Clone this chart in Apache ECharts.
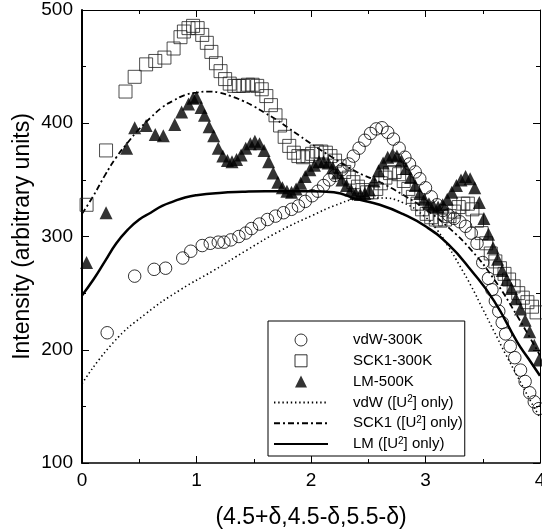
<!DOCTYPE html>
<html>
<head>
<meta charset="utf-8">
<script src="https://cdn.jsdelivr.net/npm/echarts@6/dist/echarts.min.js"></script>
<style>
  html, body { margin: 0; padding: 0; background: #fff; }
  #chart { width: 542px; height: 531px; }
</style>
</head>
<body>
<div id="chart"></div>
<script>
// Measured intensities along (4.5+δ,4.5-δ,5.5-δ): [δ, intensity]
const vdW300K = [
  [0.22,215],[0.46,265],[0.63,271],[0.73,272],[0.88,281],[0.95,287],[1.05,292],[1.12,294],
  [1.19,295],[1.24,295],[1.30,297],[1.37,300],[1.43,303],[1.48,307],[1.55,311],[1.62,315],
  [1.69,318],[1.76,321],[1.83,324],[1.89,327],[1.95,331],[2.01,336],[2.06,340],[2.11,345],
  [2.16,350],[2.21,354],[2.27,359],[2.33,364],[2.37,371],[2.42,378],[2.47,385],[2.52,391],
  [2.57,395],[2.62,396],[2.67,392],[2.72,386],[2.77,378],[2.82,370],[2.86,364],[2.91,357],
  [2.95,351],[3.00,343],[3.05,335],[3.10,328],[3.15,323],[3.20,319],[3.25,316],[3.30,313],
  [3.35,309],[3.40,303],[3.45,294],[3.50,277],[3.55,263],[3.58,253],[3.61,243],[3.64,234],
  [3.67,224],[3.70,214],[3.74,203],[3.78,193],[3.83,182],[3.87,172],[3.91,162],[3.95,154],
  [3.99,148]
];

const sck1300K = [
  [0.04,328],[0.21,376],[0.38,428],[0.46,441],[0.56,452],[0.64,455],[0.72,458],[0.80,466],
  [0.86,476],[0.89,481],[0.93,484],[0.97,486],[1.01,484],[1.05,478],[1.09,471],[1.13,463],
  [1.17,453],[1.21,446],[1.25,439],[1.29,435],[1.33,433],[1.37,433],[1.41,433],[1.45,434],
  [1.49,434],[1.53,433],[1.57,430],[1.61,424],[1.65,416],[1.69,407],[1.73,398],[1.77,388],
  [1.81,380],[1.85,374],[1.89,371],[1.93,370],[1.97,371],[2.01,373],[2.05,375],[2.09,375],
  [2.13,374],[2.17,371],[2.21,367],[2.25,362],[2.29,357],[2.33,352],[2.37,348],[2.41,344],
  [2.45,341],[2.49,339],[2.53,339],[2.57,342],[2.61,347],[2.65,352],[2.69,356],[2.73,357],
  [2.77,355],[2.81,349],[2.85,342],[2.89,335],[2.93,329],[2.97,324],[3.01,320],[3.05,317],
  [3.09,315],[3.13,314],[3.17,315],[3.21,318],[3.25,322],[3.29,326],[3.33,329],[3.37,329],
  [3.41,324],[3.45,314],[3.49,303],[3.53,294],[3.57,285],[3.61,278],[3.65,272],[3.69,267],
  [3.73,262],[3.77,256],[3.81,250],[3.85,246],[3.89,242],[3.93,238],[3.97,233]
];

const lm500K = [
  [0.04,277],[0.21,321],[0.39,378],[0.46,396],[0.56,398],[0.64,390],[0.71,389],[0.81,399],
  [0.87,410],[0.93,417],[0.97,422],[1.00,423],[1.04,414],[1.07,407],[1.11,397],[1.15,389],
  [1.19,378],[1.23,371],[1.27,367],[1.31,366],[1.35,368],[1.39,372],[1.43,378],[1.47,382],
  [1.51,384],[1.55,382],[1.59,376],[1.63,366],[1.67,356],[1.71,348],[1.75,343],[1.79,340],
  [1.83,339],[1.87,342],[1.91,347],[1.95,353],[1.99,359],[2.03,363],[2.07,366],[2.11,366],
  [2.15,365],[2.19,361],[2.23,356],[2.27,350],[2.31,345],[2.35,341],[2.39,338],[2.43,337],
  [2.47,338],[2.51,341],[2.55,349],[2.59,358],[2.63,365],[2.67,370],[2.71,372],[2.75,371],
  [2.79,367],[2.83,360],[2.87,352],[2.91,345],[2.95,338],[2.99,333],[3.03,329],[3.07,327],
  [3.11,326],[3.15,328],[3.19,333],[3.23,339],[3.27,345],[3.31,350],[3.35,353],[3.39,351],
  [3.43,343],[3.47,330],[3.51,316],[3.55,302],[3.59,290],[3.63,280],[3.67,270],[3.71,262],
  [3.75,254],[3.79,245],[3.83,236],[3.87,226],[3.91,216],[3.95,204],[3.99,191]
];

// Calculated curves from the [U²] term only
const vdWU2 = [
  [0,170],[0.27,206],[0.56,232],[0.86,253],[1.15,270],[1.44,288],[1.73,305],[2.02,319],
  [2.2,327],[2.4,333],[2.6,334],[2.8,330],[3.0,317],[3.1,306],[3.2,291],[3.3,274],
  [3.4,256],[3.5,236],[3.6,216],[3.7,196],[3.8,177],[3.9,158],[4.0,140]
];

const sck1U2 = [
  [0,320],[0.1,336],[0.2,354],[0.3,370],[0.4,383],[0.5,395],[0.6,405],[0.7,414],
  [0.8,420],[0.9,425],[1.0,427],[1.1,428],[1.2,427],[1.3,424],[1.4,420],[1.5,415],
  [1.6,409],[1.7,403],[1.8,396],[1.9,389],[2.0,382],[2.2,369],[2.4,357],[2.6,348],
  [2.8,337],[3.0,324],[3.2,308],[3.4,288],[3.6,262],[3.8,230],[4.0,195]
];

const lmU2 = [
  [0,248],[0.1,262],[0.2,278],[0.3,294],[0.4,306],[0.5,315],[0.6,321],[0.7,327],
  [0.8,331],[0.9,334.5],[1.0,336.5],[1.2,338.5],[1.4,339.5],[1.6,340],[1.8,340],[2.0,340],
  [2.2,339],[2.4,333],[2.6,328],[2.8,320],[3.0,309],[3.2,293],[3.4,270],[3.6,243],
  [3.8,207],[3.9,192],[4.0,177]
];

const xTicks = { min: 0, max: 4, step: 1 };
const yTicks = { min: 100, max: 500, step: 100 };

const FONT = 'Liberation Sans, Arial, Helvetica, sans-serif';

const baseAxis = {
  axisLine: { show: true, lineStyle: { color: '#000', width: 1.2 } },
  axisTick: { show: true, inside: true, length: 7, lineStyle: { color: '#000', width: 1 } },
  minorTick: { show: true, splitNumber: 2, length: 4, lineStyle: { color: '#000', width: 1 } },
  splitLine: { show: false },
  minorSplitLine: { show: false }
};

// legend entries for the curves show only their line sample
const hiddenMarker = { color: 'rgba(0,0,0,0)', borderColor: 'rgba(0,0,0,0)', borderWidth: 0 };
const hollowMarker = { color: 'rgba(0,0,0,0)', borderColor: '#000', borderWidth: 1 };
const solidMarker = { color: '#000', borderColor: '#000', borderWidth: 0 };
// square / triangle legend glyphs kept at their own proportions
const squareIcon = 'path://M0,0L10,0L10,10L0,10Z';
const triangleIcon = 'path://M5,0L10,10L0,10Z';

const chart = echarts.init(document.getElementById('chart'), null, { renderer: 'canvas' });

chart.setOption({
  animation: false,
  backgroundColor: '#fff',
  grid: { left: 82, right: 2, top: 10, bottom: 68, containLabel: false, outerBoundsMode: 'none' },
  xAxis: [
    Object.assign({}, baseAxis, {
      type: 'value', position: 'bottom',
      min: xTicks.min, max: xTicks.max, interval: xTicks.step,
      axisLine: { show: true, onZero: false, lineStyle: { color: '#000', width: 1.5 } },
      axisLabel: { show: true, margin: 8, color: '#000', fontSize: 19, fontFamily: FONT },
      name: '(4.5+δ,4.5-δ,5.5-δ)', nameLocation: 'middle', nameGap: 43, nameMoveOverlap: false,
      nameTextStyle: { color: '#000', fontSize: 23, fontFamily: FONT }
    }),
    Object.assign({}, baseAxis, {
      type: 'value', position: 'top',
      min: xTicks.min, max: xTicks.max, interval: xTicks.step,
      axisLine: { show: true, onZero: false, lineStyle: { color: '#000', width: 1 } },
      axisLabel: { show: false }
    })
  ],
  yAxis: [
    Object.assign({}, baseAxis, {
      type: 'value', position: 'left',
      min: yTicks.min, max: yTicks.max, interval: yTicks.step,
      axisLine: { show: true, onZero: false, lineStyle: { color: '#000', width: 2 } },
      axisLabel: { show: true, margin: 9, color: '#000', fontSize: 19, fontFamily: FONT },
      name: 'Intensity (arbitrary units)', nameLocation: 'middle', nameGap: 48, nameMoveOverlap: false,
      nameTextStyle: { color: '#000', fontSize: 23, fontFamily: FONT }
    }),
    Object.assign({}, baseAxis, {
      type: 'value', position: 'right',
      min: yTicks.min, max: yTicks.max, interval: yTicks.step,
      axisLine: { show: true, onZero: false, lineStyle: { color: '#000', width: 1 } },
      axisLabel: { show: false }
    })
  ],
  legend: {
    orient: 'vertical',
    left: 268, top: 321,
    itemWidth: 54, itemHeight: 12, itemGap: 4.8,
    symbolKeepAspect: true,
    padding: [11, 2, 4, 5],
    borderColor: '#000', borderWidth: 1, borderRadius: 0,
    backgroundColor: '#fff',
    selectedMode: false,
    textStyle: {
      color: '#000', fontSize: 15, fontFamily: FONT, lineHeight: 16,
      padding: [0, 0, 0, 20],
      rich: {
        sup: { fontSize: 10, fontFamily: FONT, color: '#000', verticalAlign: 'top', lineHeight: 10 }
      }
    },
    formatter: function (name) { return name.replace('U2', 'U{sup|2}'); },
    data: [
      { name: 'vdW-300K', icon: 'circle', itemStyle: hollowMarker },
      { name: 'SCK1-300K', icon: squareIcon, itemStyle: hollowMarker },
      { name: 'LM-500K', icon: triangleIcon, itemStyle: solidMarker },
      { name: 'vdW ([U2] only)', itemStyle: hiddenMarker },
      { name: 'SCK1 ([U2] only)', itemStyle: hiddenMarker },
      { name: 'LM ([U2] only)', itemStyle: hiddenMarker }
    ]
  },
  series: [
    {
      name: 'vdW ([U2] only)', type: 'line', data: vdWU2, smooth: true, symbol: 'none',
      itemStyle: { color: '#000' },
      lineStyle: { color: '#000', width: 1.6, type: [1.4, 2.8] }, z: 2
    },
    {
      name: 'SCK1 ([U2] only)', type: 'line', data: sck1U2, smooth: true, symbol: 'none',
      itemStyle: { color: '#000' },
      lineStyle: { color: '#000', width: 1.8, type: [6, 3, 2, 3] }, z: 2
    },
    {
      name: 'LM ([U2] only)', type: 'line', data: lmU2, smooth: true, symbol: 'none',
      itemStyle: { color: '#000' },
      lineStyle: { color: '#000', width: 2.5, type: 'solid' }, z: 2
    },
    {
      name: 'vdW-300K', type: 'scatter', data: vdW300K, symbol: 'circle', symbolSize: 12.5,
      itemStyle: { color: 'rgba(0,0,0,0)', borderColor: '#000', borderWidth: 1 }, z: 3
    },
    {
      name: 'SCK1-300K', type: 'scatter', data: sck1300K, symbol: 'rect', symbolSize: 13,
      itemStyle: { color: 'rgba(0,0,0,0)', borderColor: '#222', borderWidth: 1 }, z: 4
    },
    {
      name: 'LM-500K', type: 'scatter', data: lm500K, symbol: 'triangle', symbolSize: 13,
      itemStyle: { color: '#000', borderWidth: 0 }, z: 5
    }
  ]
});
</script>
</body>
</html>
